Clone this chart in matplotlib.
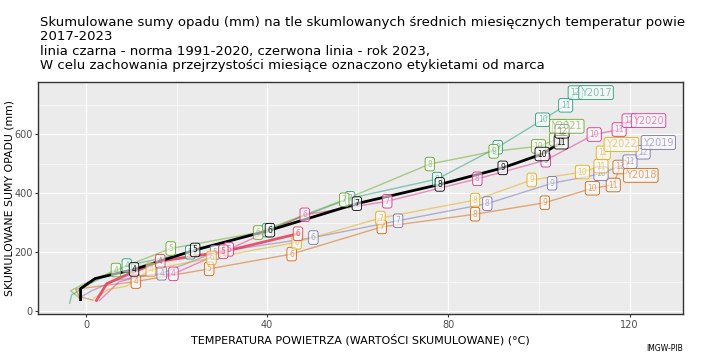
import matplotlib
matplotlib.use("Agg")
import matplotlib.pyplot as plt
from matplotlib.transforms import Bbox, TransformedBbox
import numpy as np

# ---- data (cumulative temperature °C, cumulative precipitation mm), Jan..Dec
months = [1, 2, 3, 4, 5, 6, 7, 8, 9, 10, 11, 12]

t2017 = [-3.6, -3.2, 1.0, 9.0, 23.0, 40.0, 58.3, 77.5, 90.9, 100.8, 105.9, 108.0]
p2017 = [27, 55, 95, 155, 200, 275, 383, 448, 556, 649, 698, 741]

t2018 = [1.5, -1.5, -2.3, 11.0, 27.2, 45.4, 65.3, 85.9, 101.3, 111.8, 116.4, 117.9]
p2018 = [38, 50, 75, 101, 144, 194, 286, 329, 368, 417, 428, 489]

t2019 = [-1.5, 1.3, 6.6, 16.7, 28.5, 50.2, 68.9, 88.6, 102.9, 113.7, 120.1, 123.0]
p2019 = [45, 70, 105, 129, 200, 250, 307, 365, 434, 466, 507, 539]

t2020 = [3.0, 7.3, 12.2, 19.3, 31.5, 48.3, 66.5, 86.4, 101.5, 112.2, 117.7, 119.9]
p2020 = [37, 100, 120, 127, 210, 327, 373, 449, 512, 599, 616, 646]

t2021 = [-1.0, -3.4, -0.2, 6.6, 18.7, 38.0, 57.0, 75.9, 90.0, 99.9, 103.9, 104.6]
p2021 = [40, 70, 95, 140, 213, 267, 378, 499, 542, 559, 583, 627]

t2022 = [1.8, 5.1, 8.9, 14.3, 27.7, 46.5, 65.0, 85.9, 98.4, 109.6, 113.7, 114.2]
p2022 = [45, 75, 85, 141, 181, 234, 316, 377, 445, 472, 492, 537]

t2023 = [2.3, 4.6, 9.2, 16.4, 30.3, 46.8]
p2023 = [37, 94, 125, 170, 202, 263]

t_norm = [-1.2, -1.2, 2.0, 10.6, 24.1, 40.6, 59.8, 78.1, 92.0, 100.7, 104.9, 105.1]
p_norm = [40, 77, 111, 142, 208, 275, 365, 430, 486, 533, 573, 610]

year_names = ["Y2017", "Y2018", "Y2019", "Y2020", "Y2021", "Y2022"]
x_ticks = [0, 40, 80, 120]
y_ticks = [0, 200, 400, 600]

title = ("Skumulowane sumy opadu (mm) na tle skumlowanych średnich miesięcznych temperatur powietrza\n"
         "2017-2023\n"
         "linia czarna - norma 1991-2020, czerwona linia - rok 2023,\n"
         "W celu zachowania przejrzystości miesiące oznaczono etykietami od marca")

# ---- styling
colors = ["#1b9e77", "#d95f02", "#7570b3", "#e7298a", "#66a61e", "#e6ab02"]
name_offsets = [(4, 0), (4, -6), (0, 7), (3, 0), (-6, 0), (2, 6)]  # points

fig = plt.figure(figsize=(7.09, 3.58), dpi=100)
ax = fig.add_axes([0.0536, 0.1229, 0.9097, 0.6481])
ax.set_facecolor("#ebebeb")
for s in ax.spines.values():
    s.set_color("#333333")
    s.set_linewidth(1.0)

ax.set_xlim(-10.6, 131.8)
ax.set_ylim(-9, 777)
ax.set_xticks(x_ticks)
ax.set_yticks(y_ticks)
ax.set_xticks([20, 60, 100], minor=True)
ax.set_yticks([100, 300, 500, 700], minor=True)
ax.grid(True, which="major", color="white", lw=0.9)
ax.grid(True, which="minor", color="white", lw=0.45)
ax.set_axisbelow(True)
ax.tick_params(which="major", colors="#333333", labelcolor="#4d4d4d", labelsize=7, length=2.5, pad=1.5)
ax.tick_params(which="minor", length=0)


def month_labels(t, p, color, alpha, lw_box=0.6):
    for m, x, y in zip(months, t, p):
        if m < 4:
            continue
        ax.text(x, y, str(m), fontsize=5.5, color=color, alpha=alpha, ha="center", va="center",
                zorder=5,
                bbox=dict(boxstyle="round,pad=0.3", fc=(1, 1, 1, 0.6), ec=color, lw=lw_box))


series = [(t2017, p2017), (t2018, p2018), (t2019, p2019), (t2020, p2020), (t2021, p2021), (t2022, p2022)]
for (t, p), c, name, off in zip(series, colors, year_names, name_offsets):
    ax.plot(t, p, color=c, alpha=0.5, lw=1.0, zorder=3)
    month_labels(t, p, c, 0.55)
    ax.annotate(name, xy=(t[-1], p[-1]), xytext=off, textcoords="offset points",
                fontsize=7, color=c, alpha=0.55, ha="left", va="center", zorder=6,
                bbox=dict(boxstyle="round,pad=0.2", fc=(1, 1, 1, 0.6), ec=c, lw=0.6))

ax.plot(t2023, p2023, color="#e6395a", alpha=0.85, lw=2.0, zorder=4)
month_labels(t2023, p2023, "#e6395a", 0.75)
ax.plot(t_norm, p_norm, color="black", lw=2.0, zorder=4)
month_labels(t_norm, p_norm, "black", 0.9)

ax.set_xlabel("TEMPERATURA POWIETRZA (WARTOŚCI SKUMULOWANE) (°C)", fontsize=8)
ax.set_ylabel("SKUMULOWANE SUMY OPADU (mm)", fontsize=7.8)
ax.xaxis.set_label_coords(0.5, -0.085)
ax.yaxis.set_label_coords(-0.036, 0.5)

ttl = fig.text(0.0564, 0.955, title, fontsize=9.5, va="top", ha="left", linespacing=1.12)
ttl.set_clip_box(TransformedBbox(Bbox([[0, 0], [0.966, 1]]), fig.transFigure))
ttl.set_clip_on(True)
fig.text(0.963, 0.015, "IMGW-PIB", fontsize=5.5, ha="right", va="bottom")

fig.savefig("out.png", dpi=100)
